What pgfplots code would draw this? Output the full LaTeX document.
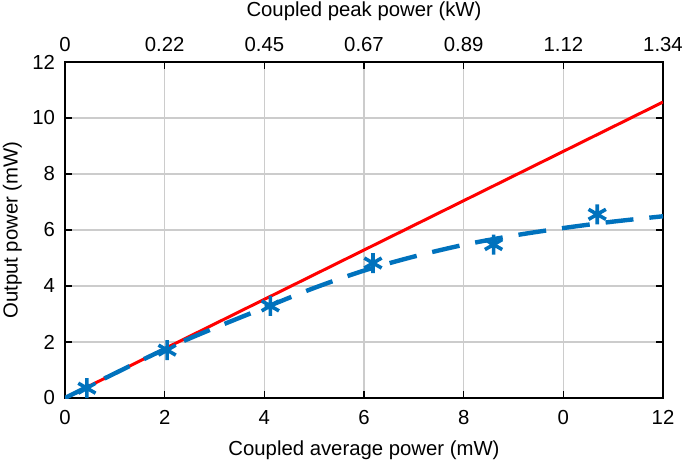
\documentclass[border=0pt]{standalone}
\usepackage{pgfplots}
\pgfplotsset{compat=1.18}
\usepackage{fontspec}
\setmainfont{Liberation Sans}
\definecolor{mblue}{rgb}{0,0.447,0.741}
\begin{document}
\begin{tikzpicture}[font=\fontsize{10.2}{12}\selectfont]
\begin{axis}[
  name=main,
  scale only axis, width=299bp, height=168bp,
  xmin=0, xmax=12, ymin=0, ymax=12,
  xtick={0,2,...,12}, xticklabels={0,2,4,6,8,0,12},
  ytick={0,2,...,12},
  xticklabel pos=lower,
  tick align=inside,
  major tick length=3.5bp,
  tick style={black, line width=0.6bp},
  axis line style={line width=0.7bp},
  grid=major, grid style={black!20, line width=0.7bp},
  /pgf/number format/assume math mode=true,
  tick label style={font=\fontsize{10.2}{12}\selectfont},
  xticklabel style={yshift=-2.5bp},
  yticklabel style={xshift=-1.5bp},
  xlabel={Coupled average power (mW)},
  ylabel={Output power (mW)},
  xlabel style={at={(axis description cs:0.5,-0.155)}, anchor=center},
  ylabel style={at={(axis description cs:-0.088,0.5)}, anchor=center},
  clip=true,
]
\addplot[red, line width=1.5bp] coordinates {(0,0) (12,10.57)};
\addplot[mblue, line width=2.2bp, dash pattern=on 14bp off 8bp, smooth] coordinates {
(0,0) (1,0.88) (2,1.74) (3,2.5) (4,3.22) (5,3.93) (6,4.55) (7,5.05) (8,5.47) (9,5.8) (10,6.07) (11,6.3) (12,6.49)};
\addplot[mblue, only marks, mark=asterisk, mark size=5bp, line width=1.8bp] coordinates {
(0.44,0.35) (2.05,1.71) (4.12,3.29) (6.18,4.82) (8.6,5.48) (10.68,6.56)};
\end{axis}
\begin{axis}[
  scale only axis, width=299bp, height=168bp,
  xmin=0, xmax=12, ymin=0, ymax=12,
  axis y line=none,
  axis x line*=top,
  xtick={0,2,...,12}, xticklabels={0,0.22,0.45,0.67,0.89,1.12,1.34},
  tick align=inside,
  major tick length=3.5bp,
  tick style={black, line width=0.6bp},
  axis line style={line width=0.7bp},
  /pgf/number format/assume math mode=true,
  tick label style={font=\fontsize{10.2}{12}\selectfont},
  xticklabel style={yshift=1.5bp},
  xlabel={Coupled peak power (kW)},
  xlabel style={at={(axis description cs:0.5,1.152)}, anchor=center},
]
\end{axis}
\pgfresetboundingbox
\path ([xshift=-32.5bp,yshift=-32.5bp]main.south west) rectangle ([xshift=11bp,yshift=31bp]main.north east);
\end{tikzpicture}
\end{document}
